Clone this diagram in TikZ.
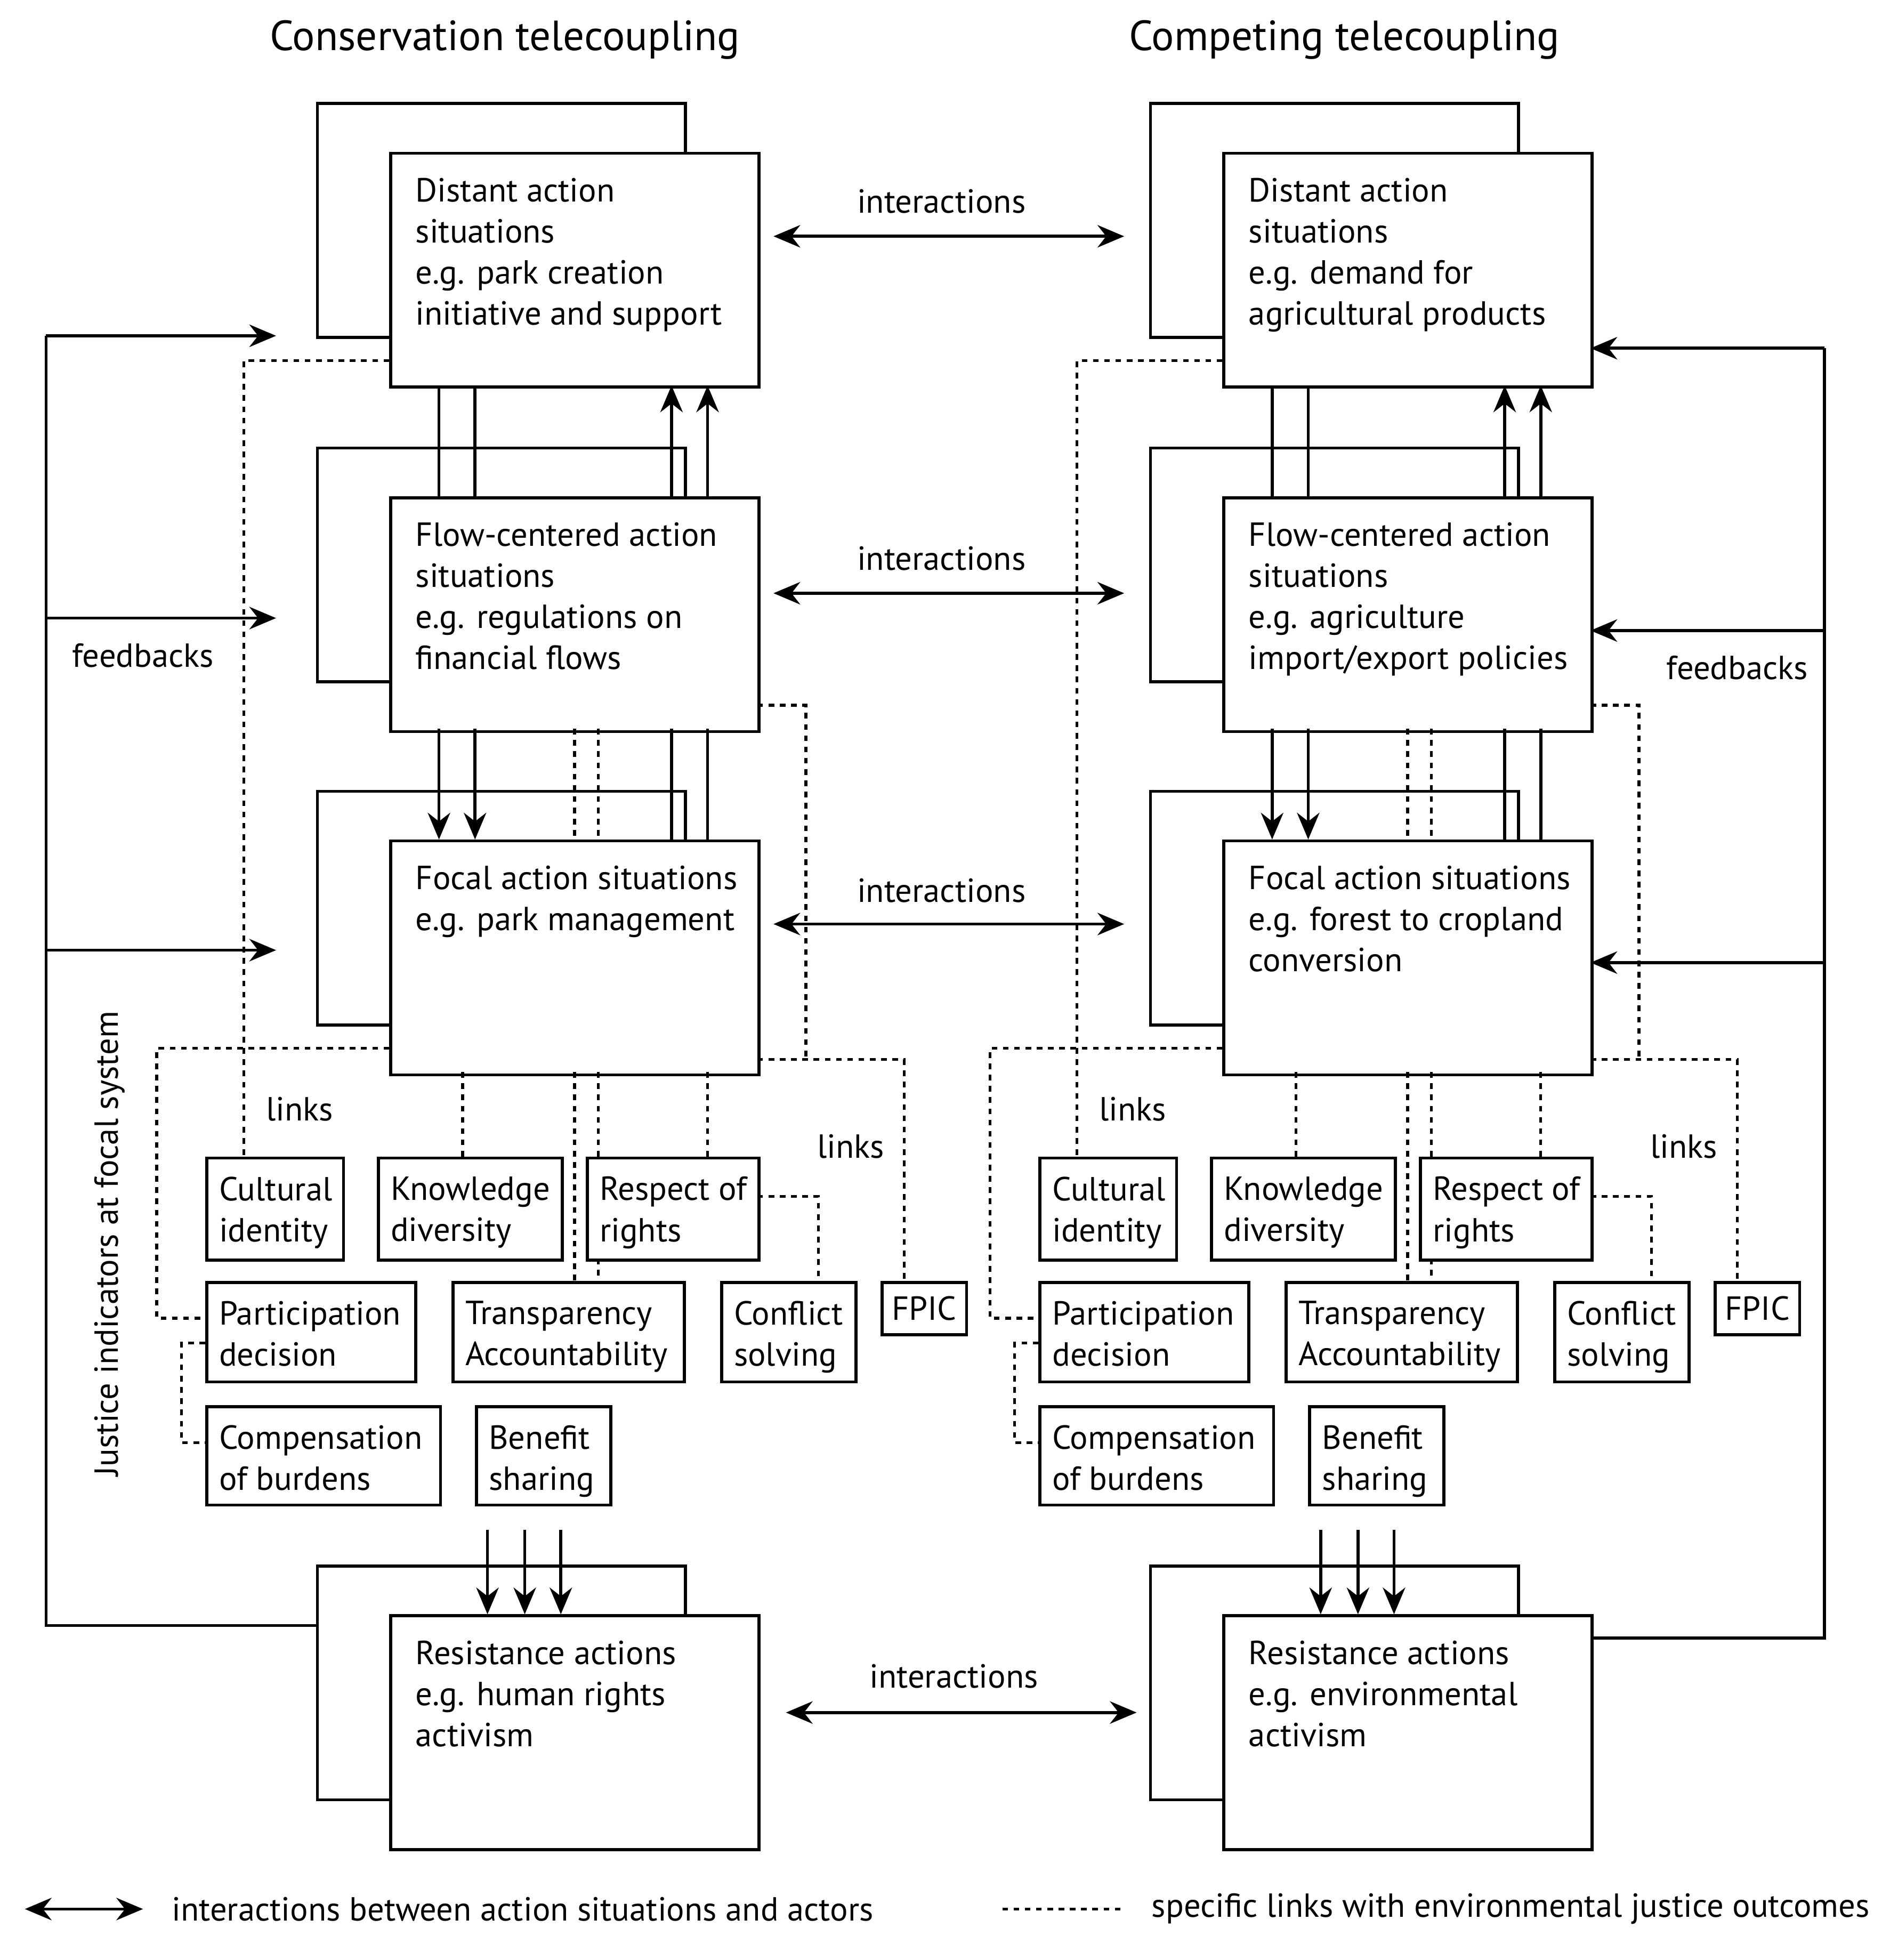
\documentclass[tikz,border=0pt]{standalone}
\usepackage{fontspec}
\setmainfont{PT Sans}
\usetikzlibrary{arrows.meta}
\newlength\uu \setlength\uu{0.0233cm}
\tikzset{
 every picture/.style={x=\uu,y=-\uu,line width=1.6pt},
 txt/.style={font=\fontsize{17.8}{21.9}\selectfont,inner sep=0pt},
 bx/.style={draw,fill=white,anchor=north west,inner sep=0pt},
 ln/.style={dash pattern=on 3pt off 3pt,line width=1.5pt},
 ar/.style={-{Stealth[length=0.5cm,width=0.42cm]}},
 dar/.style={{Stealth[length=0.5cm,width=0.42cm]}-{Stealth[length=0.5cm,width=0.42cm]}},
}
\newcommand\bigbox[4]{% name, x, y, text
 \node[bx,minimum width=296\uu,minimum height=188\uu] (#1b) at (#2-59,#3-40) {};
 \node[bx,minimum width=296\uu,minimum height=188\uu] (#1) at (#2,#3) {};
 \node[txt,anchor=north west,align=left] (#1t) at (#2+20,#3+20) {#4};
}
\newcommand\smbox[6]{% name x y w h text
 \node[bx,minimum width=#4\uu,minimum height=#5\uu] (#1) at (#2,#3) {};
 \node[txt,anchor=north west,align=left] (#1t) at (#2+10,#3+15) {#6};
}
\newcommand\tcol[6]{% prefix, offset, texts
\begin{scope}[xshift=#2\uu]
 \bigbox{#1d}{313}{122}{#3}
 \bigbox{#1f}{313}{399}{#4}
 \bigbox{#1c}{313}{675}{#5}
 \bigbox{#1r}{313}{1298}{#6}
 \draw (353,310)--(353,399) (382,310)--(382,399);
 \draw[ar] (540,399)--(540,310); \draw[ar] (569,399)--(569,310);
 \draw[ar] (353,586)--(353,675); \draw[ar] (382,586)--(382,675);
 \draw (540,586)--(540,675) (569,586)--(569,675);
 \draw[ln] (462,586)--(462,675) (481,586)--(481,675);
 \smbox{#1ci}{165}{930}{110}{82}{Cultural\\identity}
 \smbox{#1kd}{303}{930}{148}{82}{Knowledge\\diversity}
 \smbox{#1rr}{471}{930}{138}{82}{Respect of\\rights}
 \smbox{#1pd}{165}{1030}{168}{80}{Participation\\decision}
 \smbox{#1ta}{363}{1030}{186}{80}{Transparency\\Accountability}
 \smbox{#1cs}{579}{1030}{108}{80}{Conflict\\solving}
 \node[bx,minimum width=68\uu,minimum height=42\uu,font=\fontsize{17.8}{21.9}\selectfont] (#1fp) at (708,1030) {FPIC};
 \smbox{#1cb}{165}{1130}{188}{79}{Compensation\\of burdens}
 \smbox{#1bs}{382}{1130}{108}{79}{Benefit\\sharing}
 \draw[ln] (313,290)--(196,290)--(#1ci.north-|196,0);
 \draw[ln] (609,567)--(648,567)--(648,852);
 \draw[ln] (609,852)--(727,852)--(#1fp.north-|727,0);
 \draw[ln] (313,843)--(126,843)--(126,1060)--(165,1060);
 \draw[ln] (165,1080)--(146,1080)--(146,1160)--(165,1160);
 \draw[ln] (372,862)--(#1kd.north-|372,0);
 \draw[ln] (569,862)--(#1rr.north-|569,0);
 \draw[ln] (462,862)--(#1ta.north-|462,0);
 \draw[ln] (481,862)--(481,930) (481,1012)--(481,1030);
 \draw[ln] (609,962)--(658,962)--(#1cs.north-|658,0);
 \foreach \xx in {392,422,451} \draw[ar] (\xx,1230)--(\xx,1298);
 \node[txt] at (241,892) {links};
 \node[txt] at (684,922) {links};
\end{scope}}
\begin{document}
\begin{tikzpicture}
\useasboundingbox (0,0) rectangle (1526,1576);
\node[txt,font=\fontsize{22.5}{26}\selectfont] at (406,32) {Conservation telecoupling};
\node[txt,font=\fontsize{22.5}{26}\selectfont] at (1081,32) {Competing telecoupling};
\tcol{L}{0}{Distant action\\situations\\e.g. park creation\\initiative and support}{Flow-centered action\\situations\\e.g. regulations on\\financial flows}{Focal action situations\\e.g. park management}{Resistance actions\\e.g. human rights\\activism}
\tcol{R}{670}{Distant action\\situations\\e.g. demand for\\agricultural products}{Flow-centered action\\situations\\e.g. agriculture\\import/export policies}{Focal action situations\\e.g. forest to cropland\\conversion}{Resistance actions\\e.g. environmental\\activism}
% interactions
\draw[dar] (622,190)--(904,190); \node[txt] at (757,162) {interactions};
\draw[dar] (622,477)--(904,477); \node[txt] at (757,449) {interactions};
\draw[dar] (622,743)--(904,743); \node[txt] at (757,716) {interactions};
\draw[dar] (632,1377)--(914,1377); \node[txt] at (767,1348) {interactions};
% feedbacks left
\draw (254,1307)--(37,1307)--(37,270);
\draw[ar] (37,270)--(222,270);
\draw[ar] (37,497)--(222,497);
\draw[ar] (37,764)--(222,764);
\node[txt] at (115,527) {feedbacks};
\node[txt,rotate=90] at (88,1000) {Justice indicators at focal system};
% feedbacks right
\draw (1279,1317)--(1467,1317)--(1467,280);
\draw[ar] (1467,280)--(1279,280);
\draw[ar] (1467,507)--(1279,507);
\draw[ar] (1467,774)--(1279,774);
\node[txt] at (1397,537) {feedbacks};
% legend
\coordinate (la) at (20,1535); \coordinate (lb) at (115,1535);
\draw[dar] (la)--(lb);
\node[txt,anchor=west] at (137,1535) {interactions between action situations and actors};
\coordinate (lc) at (806,1535); \coordinate (ld) at (905,1535);
\draw[ln] (lc)--(ld);
\node[txt,anchor=west] at (925,1535) {specific links with environmental justice outcomes};
\end{tikzpicture}
\end{document}
